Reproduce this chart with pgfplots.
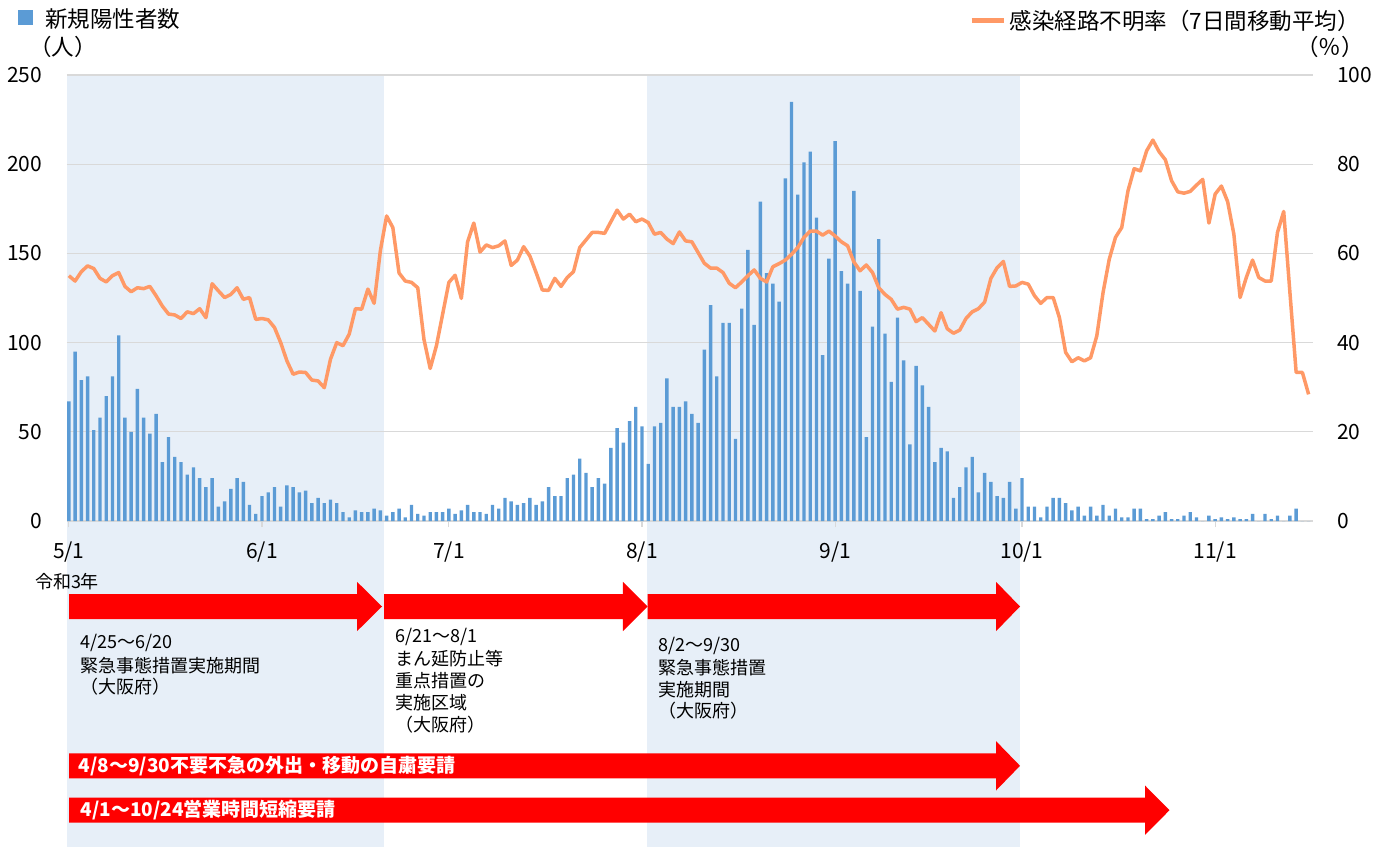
\documentclass[border=0pt]{standalone}
\usepackage{pgfplots}
\usepackage{pgfplotstable}
\pgfplotsset{compat=1.18}
\usepackage{fontspec}
\setmainfont{Noto Sans CJK JP}
\definecolor{barblue}{RGB}{91,155,213}
\definecolor{lineorange}{RGB}{255,153,102}
\definecolor{periodblue}{RGB}{231,239,248}
\definecolor{gridgray}{RGB}{217,217,217}
\definecolor{arrowred}{RGB}{255,0,0}
\pgfplotstableread{
d v
0 67
1 95
2 79
3 81
4 51
5 58
6 70
7 81
8 104
9 58
10 50
11 74
12 58
13 49
14 60
15 33
16 47
17 36
18 33
19 26
20 30
21 24
22 19
23 24
24 8
25 11
26 18
27 24
28 22
29 9
30 4
31 14
32 16
33 19
34 8
35 20
36 19
37 16
38 17
39 10
40 13
41 10
42 12
43 10
44 5
45 2
46 6
47 5
48 5
49 7
50 6
51 3
52 5
53 7
54 2
55 9
56 4
57 3
58 5
59 5
60 5
61 7
62 4
63 6
64 9
65 5
66 5
67 4
68 9
69 7
70 13
71 11
72 9
73 10
74 13
75 9
76 11
77 19
78 14
79 14
80 24
81 26
82 35
83 27
84 19
85 24
86 21
87 41
88 52
89 44
90 56
91 64
92 53
93 32
94 53
95 55
96 80
97 64
98 64
99 67
100 60
101 55
102 96
103 121
104 81
105 111
106 111
107 46
108 119
109 152
110 110
111 179
112 139
113 133
114 123
115 192
116 235
117 183
118 201
119 207
120 170
121 93
122 147
123 213
124 140
125 133
126 185
127 129
128 47
129 109
130 158
131 105
132 78
133 114
134 90
135 43
136 87
137 76
138 64
139 33
140 41
141 39
142 13
143 19
144 30
145 36
146 16
147 27
148 22
149 14
150 13
151 22
152 7
153 24
154 8
155 8
156 2
157 8
158 13
159 13
160 10
161 6
162 8
163 3
164 8
165 3
166 9
167 3
168 7
169 2
170 2
171 7
172 7
173 1
174 1
175 3
176 5
177 1
178 1
179 3
180 5
181 2
182 0
183 3
184 1
185 2
186 1
187 2
188 1
189 1
190 4
191 0
192 4
193 1
194 3
195 0
196 3
197 7
198 0
199 0
}\barsdata
\pgfplotstableread{
d r
0 55.0
1 53.8
2 55.9
3 57.2
4 56.6
5 54.4
6 53.6
7 55.0
8 55.7
9 52.6
10 51.4
11 52.3
12 52.1
13 52.6
14 50.5
15 48.2
16 46.4
17 46.2
18 45.4
19 46.9
20 46.5
21 47.6
22 45.6
23 53.2
24 51.6
25 50.1
26 50.8
27 52.3
28 49.7
29 50.1
30 45.2
31 45.4
32 45.1
33 43.4
34 40.0
35 35.9
36 32.9
37 33.4
38 33.3
39 31.6
40 31.4
41 29.9
42 36.3
43 40.0
44 39.3
45 41.9
46 47.6
47 47.5
48 52.0
49 48.8
50 60.6
51 68.4
52 65.8
53 55.6
54 53.8
55 53.5
56 52.3
57 40.7
58 34.2
59 39.3
60 46.4
61 53.5
62 55.1
63 49.9
64 62.6
65 66.8
66 60.3
67 61.9
68 61.3
69 61.7
70 62.8
71 57.3
72 58.5
73 61.5
74 59.4
75 55.7
76 51.8
77 51.7
78 54.4
79 52.6
80 54.6
81 55.9
82 61.3
83 63.0
84 64.7
85 64.7
86 64.5
87 67.1
88 69.7
89 67.7
90 68.8
91 67.1
92 67.7
93 66.9
94 64.3
95 64.7
96 63.2
97 62.2
98 64.8
99 62.8
100 62.6
101 60.2
102 57.8
103 56.7
104 56.7
105 55.7
106 53.3
107 52.3
108 53.6
109 55.0
110 56.3
111 54.4
112 53.6
113 57.0
114 57.7
115 58.5
116 59.8
117 61.3
118 63.6
119 65.0
120 65.0
121 64.1
122 65.0
123 63.9
124 62.6
125 61.7
126 58.1
127 56.1
128 57.4
129 55.7
130 52.3
131 50.8
132 49.7
133 47.5
134 47.9
135 47.5
136 44.7
137 45.6
138 44.1
139 42.6
140 46.7
141 43.1
142 42.1
143 42.8
144 45.4
145 46.9
146 47.6
147 49.1
148 54.4
149 56.8
150 58.2
151 52.6
152 52.7
153 53.5
154 53.1
155 50.5
156 48.8
157 50.1
158 50.1
159 45.6
160 37.8
161 35.7
162 36.6
163 35.9
164 36.6
165 41.5
166 51.2
167 58.7
168 63.6
169 65.8
170 74.0
171 79.0
172 78.5
173 83.0
174 85.4
175 82.8
176 81.0
177 76.3
178 73.8
179 73.5
180 73.9
181 75.3
182 76.6
183 66.8
184 73.3
185 75.1
186 71.6
187 64.3
188 50.1
189 54.6
190 58.5
191 54.6
192 53.8
193 53.8
194 64.7
195 69.4
196 51.2
197 33.3
198 33.3
199 28.4
}\ratedata
\begin{document}
\begin{tikzpicture}[x=1pt,y=1pt]
\path[use as bounding box] (0,0) rectangle (1389,847);
% shaded periods
\fill[periodblue] (67,0) rectangle (384,772);
\fill[periodblue] (647,0) rectangle (1020,772);
% bars
\begin{axis}[at={(67pt,326pt)}, anchor=south west, scale only axis,
  width=1246pt, height=446pt,
  xmin=-0.3, xmax=199.7, ymin=0, ymax=250,
  ytick={0,50,...,250}, ymajorgrids,
  major grid style={draw=gridgray, line width=1.3pt},
  axis line style={draw=none},
  xtick={0,31,61,92,123,153,184},
  xticklabels={5/1,6/1,7/1,8/1,9/1,10/1,11/1},
  xtick pos=bottom, ytick pos=left, tick align=outside,
  major tick length=6pt,
  x tick style={draw=gridgray, line width=1.2pt},
  y tick style={draw=none},
  tick label style={inner sep=0pt, font=\fontsize{21}{21}\selectfont},
  xticklabel style={anchor=center, yshift=-24.7pt},
  yticklabel style={anchor=east, xshift=-18.5pt},
  /pgf/number format/assume math mode=true,
  clip=false]
\addplot[ybar, bar width=3.4pt, fill=barblue, draw=none] table[x=d,y=v]{\barsdata};
\end{axis}
% line
\begin{axis}[at={(67pt,326pt)}, anchor=south west, scale only axis,
  width=1246pt, height=446pt,
  xmin=-0.3, xmax=199.7, ymin=0, ymax=100,
  axis x line=none, axis y line*=right,
  axis line style={draw=none},
  ytick={0,20,...,100}, y tick style={draw=none},
  major tick length=6pt, tick align=outside,
  tick label style={inner sep=0pt, font=\fontsize{21}{21}\selectfont},
  yticklabel style={anchor=west, xshift=18pt},
  /pgf/number format/assume math mode=true]
\addplot[lineorange, line width=3.5pt, line join=round, no marks] table[x=d,y=r]{\ratedata};
\end{axis}
% legends
\fill[barblue] (17.7,822) rectangle (32.8,837);
\node[anchor=west, inner sep=0pt, font=\fontsize{22.5}{22.5}\selectfont] at (45,828) {新規陽性者数};
\node[anchor=west, inner sep=0pt, font=\fontsize{22.5}{22.5}\selectfont] at (29,800.3) {（人）};
\draw[lineorange, line width=5pt] (971.6,826.3) -- (1003.5,826.3);
\node[anchor=west, inner sep=0pt, font=\fontsize{22.5}{22.5}\selectfont] at (1009.7,826.3) {感染経路不明率（7日間移動平均）};
\node[anchor=east, inner sep=0pt, font=\fontsize{22.5}{22.5}\selectfont] at (1364,800.3) {（％）};
% period text
\node[anchor=west, inner sep=0pt, font=\fontsize{18}{18}\selectfont] at (34.8,265.3) {令和3年};
\begin{scope}[every node/.style={anchor=west, inner sep=0pt, font=\fontsize{18}{18}\selectfont}]
\node at (80.4,203.7) {4/25～6/20};
\node at (80.4,181.3) {緊急事態措置実施期間};
\node at (80.4,160.3) {（大阪府）};
\node at (395,210.3) {6/21～8/1};
\node at (395,188.7) {まん延防止等};
\node at (395,166) {重点措置の};
\node at (395,144.3) {実施区域};
\node at (395,122) {（大阪府）};
\node at (658.7,201.3) {8/2～9/30};
\node at (658.7,179.3) {緊急事態措置};
\node at (658.7,157.7) {実施期間};
\node at (658.7,136.3) {（大阪府）};
\end{scope}
% arrows
\fill[arrowred] (69,228) -- (357,228) -- (357,215.8) -- (382,240.5) -- (357,265.2) -- (357,253) -- (69,253) -- cycle;
\fill[arrowred] (384,228) -- (622.8,228) -- (622.8,215.8) -- (647.5,240.5) -- (622.8,265.2) -- (622.8,253) -- (384,253) -- cycle;
\fill[arrowred] (647.5,228) -- (996,228) -- (996,215.8) -- (1020,240.5) -- (996,265.2) -- (996,253) -- (647.5,253) -- cycle;
\fill[arrowred] (69,68.7) -- (996,68.7) -- (996,56.5) -- (1020,81.2) -- (996,105.9) -- (996,93.7) -- (69,93.7) -- cycle;
\fill[arrowred] (69,24.3) -- (1145,24.3) -- (1145,12.1) -- (1169.5,36.8) -- (1145,61.5) -- (1145,49.3) -- (69,49.3) -- cycle;
\node[anchor=west, inner sep=0pt, text=white, font=\fontsize{19}{19}\selectfont\bfseries] at (78.6,80.8) {4/8～9/30不要不急の外出・移動の自粛要請};
\node[anchor=west, inner sep=0pt, text=white, font=\fontsize{19}{19}\selectfont\bfseries] at (80.4,37) {4/1～10/24営業時間短縮要請};
\end{tikzpicture}
\end{document}
